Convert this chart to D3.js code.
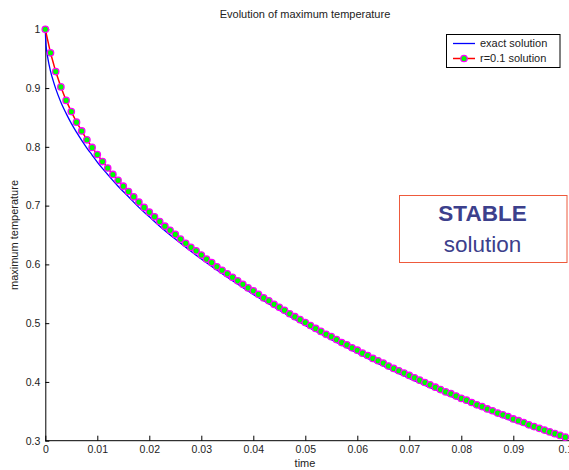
<!DOCTYPE html>
<html>
<head>
<meta charset="utf-8">
<script src="https://cdn.jsdelivr.net/npm/d3@7"></script>
<style>
  body { margin: 0; background: #fff; }
  text { font-family: Arial, "Liberation Sans", Helvetica, sans-serif; fill: #222; }
</style>
</head>
<body>
<div id="my_dataviz"></div>
<script>
// numerical solution (r=0.1), one marker per time step
const numTime = [0, 0.001, 0.002, 0.003, 0.004, 0.005, 0.006, 0.007, 0.008, 0.009,
  0.010, 0.011, 0.012, 0.013, 0.014, 0.015, 0.016, 0.017, 0.018, 0.019,
  0.020, 0.021, 0.022, 0.023, 0.024, 0.025, 0.026, 0.027, 0.028, 0.029,
  0.030, 0.031, 0.032, 0.033, 0.034, 0.035, 0.036, 0.037, 0.038, 0.039,
  0.040, 0.041, 0.042, 0.043, 0.044, 0.045, 0.046, 0.047, 0.048, 0.049,
  0.050, 0.051, 0.052, 0.053, 0.054, 0.055, 0.056, 0.057, 0.058, 0.059,
  0.060, 0.061, 0.062, 0.063, 0.064, 0.065, 0.066, 0.067, 0.068, 0.069,
  0.070, 0.071, 0.072, 0.073, 0.074, 0.075, 0.076, 0.077, 0.078, 0.079,
  0.080, 0.081, 0.082, 0.083, 0.084, 0.085, 0.086, 0.087, 0.088, 0.089,
  0.090, 0.091, 0.092, 0.093, 0.094, 0.095, 0.096, 0.097, 0.098, 0.099,
  0.100];
const numTemp = [1.000, 0.960, 0.928, 0.902, 0.879, 0.860, 0.842, 0.827, 0.812, 0.799,
  0.787, 0.775, 0.764, 0.753, 0.743, 0.733, 0.724, 0.715, 0.706, 0.697,
  0.689, 0.681, 0.673, 0.665, 0.658, 0.651, 0.643, 0.636, 0.629, 0.623,
  0.616, 0.609, 0.603, 0.596, 0.590, 0.584, 0.578, 0.572, 0.566, 0.560,
  0.555, 0.549, 0.543, 0.538, 0.532, 0.527, 0.522, 0.516, 0.511, 0.506,
  0.501, 0.496, 0.491, 0.486, 0.481, 0.477, 0.472, 0.467, 0.463, 0.458,
  0.454, 0.449, 0.445, 0.440, 0.436, 0.432, 0.427, 0.423, 0.419, 0.415,
  0.411, 0.407, 0.403, 0.399, 0.395, 0.391, 0.387, 0.383, 0.380, 0.376,
  0.372, 0.369, 0.365, 0.361, 0.358, 0.354, 0.351, 0.347, 0.344, 0.341,
  0.337, 0.334, 0.331, 0.327, 0.324, 0.321, 0.318, 0.315, 0.312, 0.309,
  0.306];

// exact solution
const exactTime = [0, 0.0001, 0.0002, 0.0005, 0.001, 0.0015, 0.002, 0.003, 0.004, 0.005,
  0.006, 0.007, 0.008, 0.009, 0.010, 0.012, 0.014, 0.016, 0.018, 0.020,
  0.022, 0.025, 0.030, 0.035, 0.040, 0.045, 0.050, 0.060, 0.070, 0.080,
  0.090, 0.100];
const exactTemp = [1.000, 0.977, 0.968, 0.950, 0.929, 0.913, 0.899, 0.876, 0.857, 0.840,
  0.825, 0.811, 0.798, 0.786, 0.774, 0.753, 0.733, 0.715, 0.697, 0.681,
  0.665, 0.643, 0.609, 0.578, 0.549, 0.522, 0.496, 0.449, 0.406, 0.368,
  0.333, 0.302];

// tick labels
const xTicks = [0, 0.01, 0.02, 0.03, 0.04, 0.05, 0.06, 0.07, 0.08, 0.09, 0.1];
const yTicks = [0.3, 0.4, 0.5, 0.6, 0.7, 0.8, 0.9, 1];
const legendLabels = ["exact solution", "r=0.1 solution"];

// set the dimensions and margins of the graph
const W = 569, H = 470;
const margin = {top: 29.3, right: 3.7, bottom: 29.3, left: 45.3},
    width = W - margin.left - margin.right,
    height = H - margin.top - margin.bottom;

const svg = d3.select("#my_dataviz")
  .append("svg")
    .attr("width", W)
    .attr("height", H);

const g = svg.append("g")
    .attr("transform", `translate(${margin.left}, ${margin.top})`);

// scales
const x = d3.scaleLinear()
  .domain([0, 0.1])
  .range([0, width]);
const y = d3.scaleLinear()
  .domain([0.3, 1])
  .range([height, 0]);

// X axis, ticks pointing inward like matlab
const xAxis = g.append("g")
  .attr("transform", `translate(0, ${height})`)
  .call(d3.axisBottom(x).tickValues(xTicks).tickSize(-5).tickSizeOuter(0)
    .tickPadding(5).tickFormat(d => d3.format("")(+d.toFixed(2))));
xAxis.select(".domain").remove();
xAxis.selectAll("text").attr("font-size", "10.5px").style("fill", "#222");
g.append("line")
  .attr("x1", 0).attr("x2", W - margin.left)
  .attr("y1", height).attr("y2", height)
  .attr("stroke", "#000");

// Y axis
const yAxis = g.append("g")
  .call(d3.axisLeft(y).tickValues(yTicks).tickSize(-4).tickSizeOuter(0)
    .tickPadding(5).tickFormat(d3.format("")));
yAxis.select(".domain").attr("stroke", "#000");
yAxis.selectAll("text").attr("font-size", "10.5px").style("fill", "#222");

// exact solution line
const exactData = exactTime.map((t, i) => ({t: t, v: exactTemp[i]}));
g.append("path")
  .datum(exactData)
  .attr("fill", "none")
  .attr("stroke", "#0000ff")
  .attr("stroke-width", 1.3)
  .attr("d", d3.line().x(d => x(d.t)).y(d => y(d.v)).curve(d3.curveMonotoneX));

// numerical solution line + markers
const numData = numTime.map((t, i) => ({t: t, v: numTemp[i]}));
g.append("path")
  .datum(numData)
  .attr("fill", "none")
  .attr("stroke", "#ff0000")
  .attr("stroke-width", 1.5)
  .attr("d", d3.line().x(d => x(d.t)).y(d => y(d.v)));

g.append("g")
  .selectAll("circle")
  .data(numData)
  .join("circle")
    .attr("cx", d => x(d.t))
    .attr("cy", d => y(d.v))
    .attr("r", 3.2)
    .style("fill", "#00ff00")
    .style("stroke", "#ff00ff")
    .style("stroke-width", 1.3);

// title and axis labels
svg.append("text")
  .attr("x", 305).attr("y", 17.5)
  .attr("text-anchor", "middle")
  .attr("font-size", "11px")
  .text("Evolution of maximum temperature");
svg.append("text")
  .attr("x", 305).attr("y", 467)
  .attr("text-anchor", "middle")
  .attr("font-size", "11px")
  .text("time");
svg.append("text")
  .attr("transform", `translate(18, ${margin.top + height / 2}) rotate(-90)`)
  .attr("text-anchor", "middle")
  .attr("font-size", "11px")
  .text("maximum temperature");

// legend
const leg = svg.append("g");
leg.append("rect")
  .attr("x", 446.5).attr("y", 34.5)
  .attr("width", 113.5).attr("height", 33)
  .attr("fill", "#fff")
  .attr("stroke", "#000");
leg.append("line")
  .attr("x1", 453).attr("x2", 475).attr("y1", 43.5).attr("y2", 43.5)
  .attr("stroke", "#0000ff").attr("stroke-width", 1.3);
leg.append("line")
  .attr("x1", 453).attr("x2", 475).attr("y1", 58.5).attr("y2", 58.5)
  .attr("stroke", "#ff0000").attr("stroke-width", 1.5);
leg.append("circle")
  .attr("cx", 464).attr("cy", 58.5).attr("r", 3.2)
  .style("fill", "#00ff00").style("stroke", "#ff00ff").style("stroke-width", 1.3);
leg.selectAll("text.lab")
  .data(legendLabels)
  .join("text")
    .attr("class", "lab")
    .attr("x", 480)
    .attr("y", (d, i) => 47.3 + i * 15)
    .attr("font-size", "11px")
    .text(d => d);

// STABLE annotation box
svg.append("rect")
  .attr("x", 399.5).attr("y", 195.5)
  .attr("width", 167.5).attr("height", 67)
  .attr("fill", "#fff")
  .attr("stroke", "#ee5a3c")
  .attr("stroke-width", 1);
svg.append("text")
  .attr("x", 482.5).attr("y", 221)
  .attr("text-anchor", "middle")
  .attr("font-size", "22.5px")
  .attr("font-weight", "bold")
  .style("fill", "#3c408c")
  .text("STABLE");
svg.append("text")
  .attr("x", 482.5).attr("y", 251.5)
  .attr("text-anchor", "middle")
  .attr("font-size", "22.5px")
  .style("fill", "#3c408c")
  .text("solution");
</script>
</body>
</html>
